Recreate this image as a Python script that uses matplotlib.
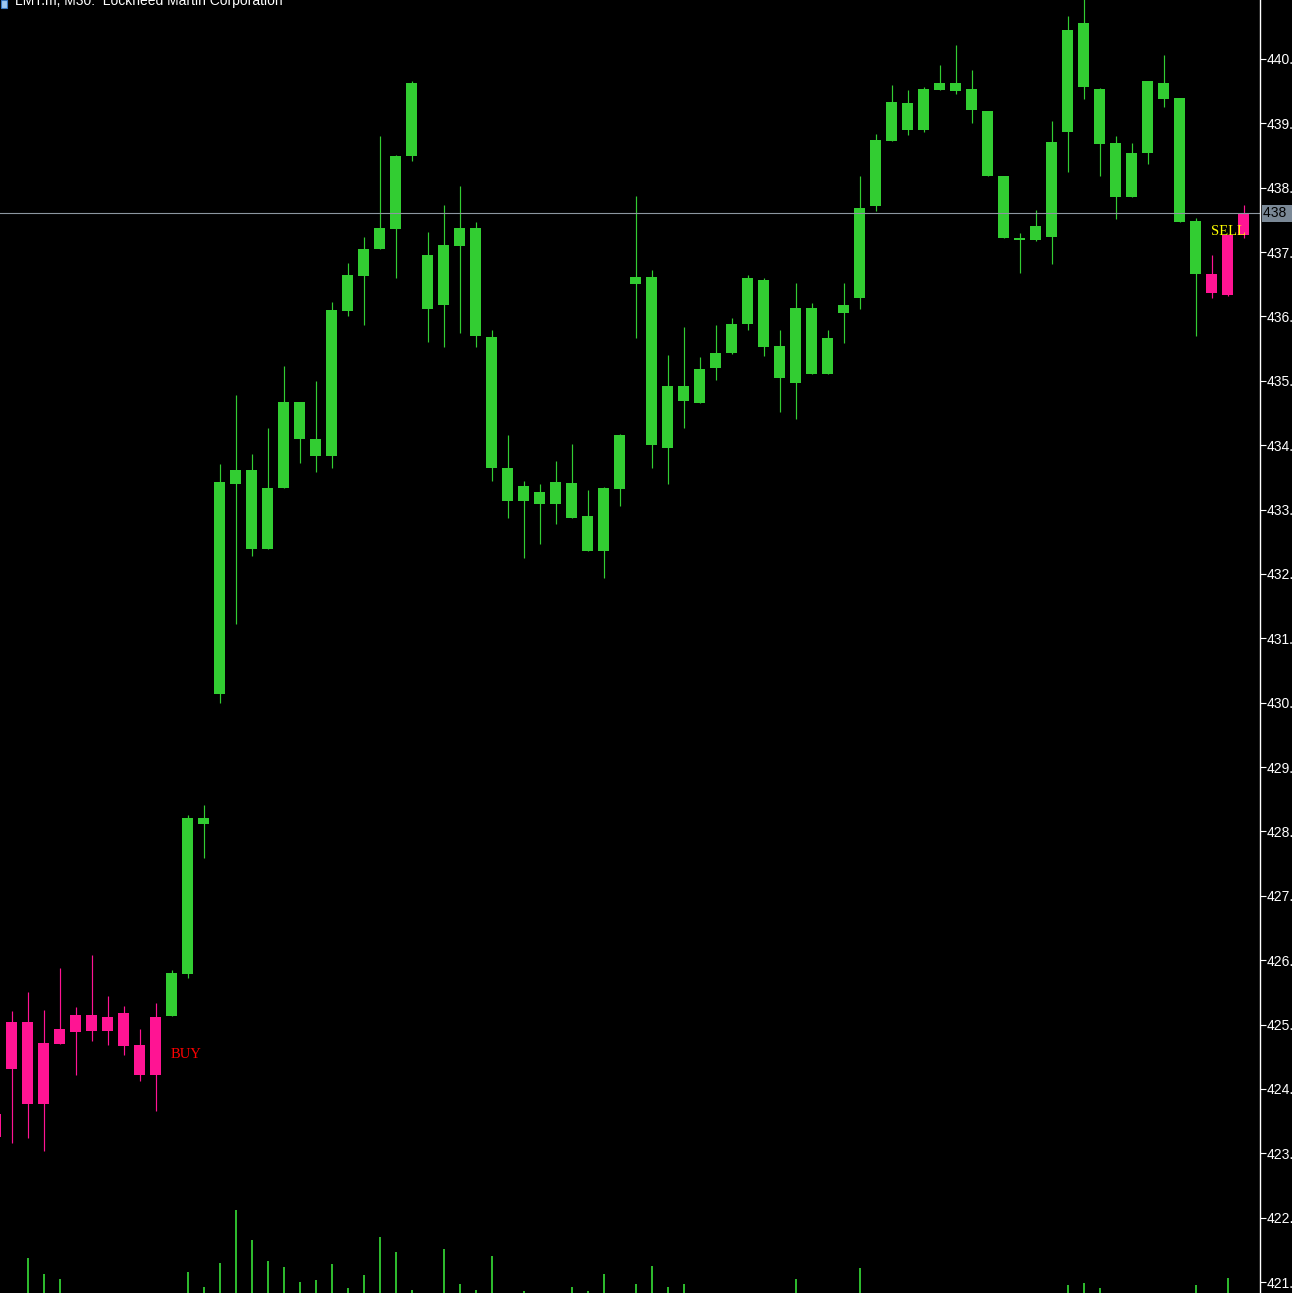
import numpy as np
import matplotlib.pyplot as plt
from matplotlib.patches import Rectangle

# LMT.m M30 candles, first one is cut by the left border (index -1)
opens = [423.61, 424.31, 425.04, 423.77, 424.70, 424.89, 425.15, 424.90, 425.18, 424.68,
         424.21, 425.14, 425.79, 428.21, 430.13, 433.39, 433.62, 432.38, 433.34, 434.67,
         434.10, 433.84, 436.09, 436.63, 437.05, 437.36, 438.50, 436.11, 436.18, 437.10,
         437.37, 435.68, 433.65, 433.14, 433.27, 433.08, 433.41, 432.90, 432.35, 433.32,
         436.51, 436.61, 433.96, 434.92, 434.66, 435.20, 435.44, 435.89, 436.57, 435.54,
         434.97, 436.13, 435.11, 436.06, 436.29, 437.72, 438.73, 439.32, 438.89, 439.52,
         439.63, 439.53, 439.19, 438.18, 437.22, 437.19, 437.24, 438.87, 440.56, 439.53,
         438.70, 437.86, 438.54, 439.63, 439.39, 437.48, 436.66, 436.34, 437.27]
highs = [423.64, 425.21, 425.51, 425.23, 425.88, 425.27, 426.08, 425.44, 425.29, 424.93,
         425.34, 425.85, 428.26, 428.41, 433.71, 434.78, 433.86, 434.27, 435.23, 434.67,
         434.99, 436.23, 436.83, 437.24, 438.80, 438.51, 439.66, 437.31, 437.73, 438.03,
         437.47, 435.79, 434.16, 433.44, 433.40, 433.75, 434.02, 433.30, 433.35, 434.17,
         437.87, 436.72, 435.40, 435.84, 435.37, 435.87, 435.98, 436.64, 436.60, 435.79,
         436.52, 436.21, 435.79, 436.52, 438.18, 438.83, 439.60, 439.52, 439.57, 439.91,
         440.22, 439.83, 439.19, 438.18, 437.30, 437.65, 439.04, 440.67, 440.95, 439.55,
         438.80, 438.70, 439.66, 440.06, 439.39, 437.53, 436.96, 437.27, 437.73]
lows = [423.21, 423.16, 423.23, 423.04, 424.70, 424.21, 424.75, 424.69, 424.53, 424.13,
        423.65, 425.14, 425.73, 427.58, 429.99, 431.23, 432.28, 432.38, 433.34, 433.73,
        433.58, 433.65, 436.00, 435.86, 437.05, 436.60, 438.41, 435.61, 435.52, 435.75,
        435.52, 433.45, 432.87, 432.25, 432.47, 432.78, 432.87, 432.36, 431.93, 433.06,
        435.67, 433.64, 433.40, 434.26, 434.65, 435.02, 435.42, 435.79, 435.38, 434.51,
        434.41, 435.11, 435.11, 435.59, 436.12, 437.64, 438.72, 438.82, 438.87, 439.52,
        439.46, 439.00, 438.19, 437.22, 436.68, 437.18, 436.82, 438.25, 439.38, 438.19,
        437.52, 437.86, 438.37, 439.26, 437.47, 435.70, 436.28, 436.32, 437.22]
closes = [423.25, 425.04, 423.77, 424.71, 424.93, 425.15, 424.90, 425.12, 424.67, 424.21,
          425.12, 425.80, 428.21, 428.12, 433.43, 433.62, 432.38, 433.34, 434.67, 434.09,
          433.84, 436.10, 436.65, 437.05, 437.37, 438.49, 439.63, 436.96, 437.11, 437.37,
          435.69, 433.64, 433.14, 433.37, 433.08, 433.43, 432.87, 432.36, 433.34, 434.16,
          436.61, 434.01, 434.92, 434.69, 435.18, 435.43, 435.88, 436.60, 435.53, 435.05,
          436.13, 435.11, 435.67, 436.18, 437.69, 438.74, 439.33, 438.89, 439.53, 439.63,
          439.51, 439.20, 438.19, 437.22, 437.19, 437.41, 438.71, 440.45, 439.57, 438.68,
          437.85, 438.54, 439.66, 439.38, 437.47, 436.66, 436.37, 437.27, 437.60]
volumes = [0, 0, 35, 19, 14, 0, 0, 0, 0, 0,
           0, 0, 21, 6, 30, 83, 53, 32, 26, 11,
           13, 29, 5, 18, 56, 41, 3, 0, 44, 9,
           3, 37, 0, 2, 0, 0, 6, 2, 19, 0,
           9, 27, 6, 9, 0, 0, 0, 0, 0, 0,
           14, 0, 0, 0, 25, 0, 0, 0, 0, 0,
           0, 0, 0, 0, 0, 0, 0, 8, 10, 5,
           0, 0, 0, 0, 0, 8, 0, 15, 0]

buy_bar = 10    # candle with BUY signal
sell_bar = 75   # candle with SELL signal
price_ticks = list(range(421, 441))
last_label = '438'
title = 'LMT.m, M30:  Lockheed Martin Corporation'

o = np.array(opens); h = np.array(highs); l = np.array(lows); c = np.array(closes)
x = np.arange(len(o)) - 1
green, pink = '#32cd32', '#ff1493'
cols = [green if buy_bar <= i < sell_bar else pink for i in x]

W, H = 1292, 1293
fig = plt.figure(figsize=(W/100, H/100), dpi=100, facecolor='black')
rect = [0, 0, 1260/W, 1]
ax = fig.add_axes(rect, facecolor='black')

# price scale: 64.37 px per dollar, 16 px per candle
ax.set_xlim(-11.5/16, (1260-11.5)/16)
ax.set_ylim(440 - 1234/64.37, 440 + 59/64.37)

ax.vlines(x, l, h, colors=cols, lw=0.85)
top = np.maximum(o, c); bot = np.minimum(o, c)
ax.bar(x, np.maximum(top-bot, 0.02), bottom=bot, width=0.69, color=cols, linewidth=0)

# last price line
ax.axhline(c[-1], color='#8c96a0', lw=0.8)

ax.text(buy_bar-0.03, 424.53, 'BUY', color='red', fontsize=10.5, family='Liberation Serif',
        ha='left', va='center')
ax.text(sell_bar-0.03, 437.32, 'SELL', color='yellow', fontsize=10.5, family='Liberation Serif',
        ha='left', va='center')

# right price scale
for s in ['top', 'left', 'bottom']:
    ax.spines[s].set_visible(False)
ax.spines['right'].set_color('white')
ax.spines['right'].set_linewidth(1)
ax.set_xticks([])
ax.yaxis.tick_right()
ax.set_yticks(price_ticks)
ax.set_yticklabels(['%.2f' % p for p in price_ticks], family='Liberation Sans')
ax.tick_params(axis='y', colors='white', length=4, width=0.8, pad=1, labelsize=10)

ax.text(1.0 + 3/1260, c[-1], last_label + '      ', transform=ax.get_yaxis_transform(),
        color='black', fontsize=10, family='Liberation Sans', ha='left', va='center',
        bbox=dict(boxstyle='square,pad=0.1', facecolor='#7a8896', edgecolor='none'))

# volumes drawn from the bottom of the window
axv = fig.add_axes(rect, facecolor='none')
axv.set_xlim(ax.get_xlim())
axv.set_ylim(0, H)
v = np.array(volumes)
m = v > 0
axv.vlines(x[m], 0, v[m], colors=green, lw=1.3)
axv.axis('off')

# window title, cut by the top border
fig.add_artist(Rectangle((1/W, 1 - 8/H), 6/W, 8/H, transform=fig.transFigure,
                         facecolor='#9ec8f0', edgecolor='#3a78c0', lw=0.8))
fig.text(15/W, 1 - 1/H, title, color='white', fontsize=10, family='Liberation Sans',
         ha='left', va='center')

fig.savefig('out.png', dpi=100, facecolor='black')
